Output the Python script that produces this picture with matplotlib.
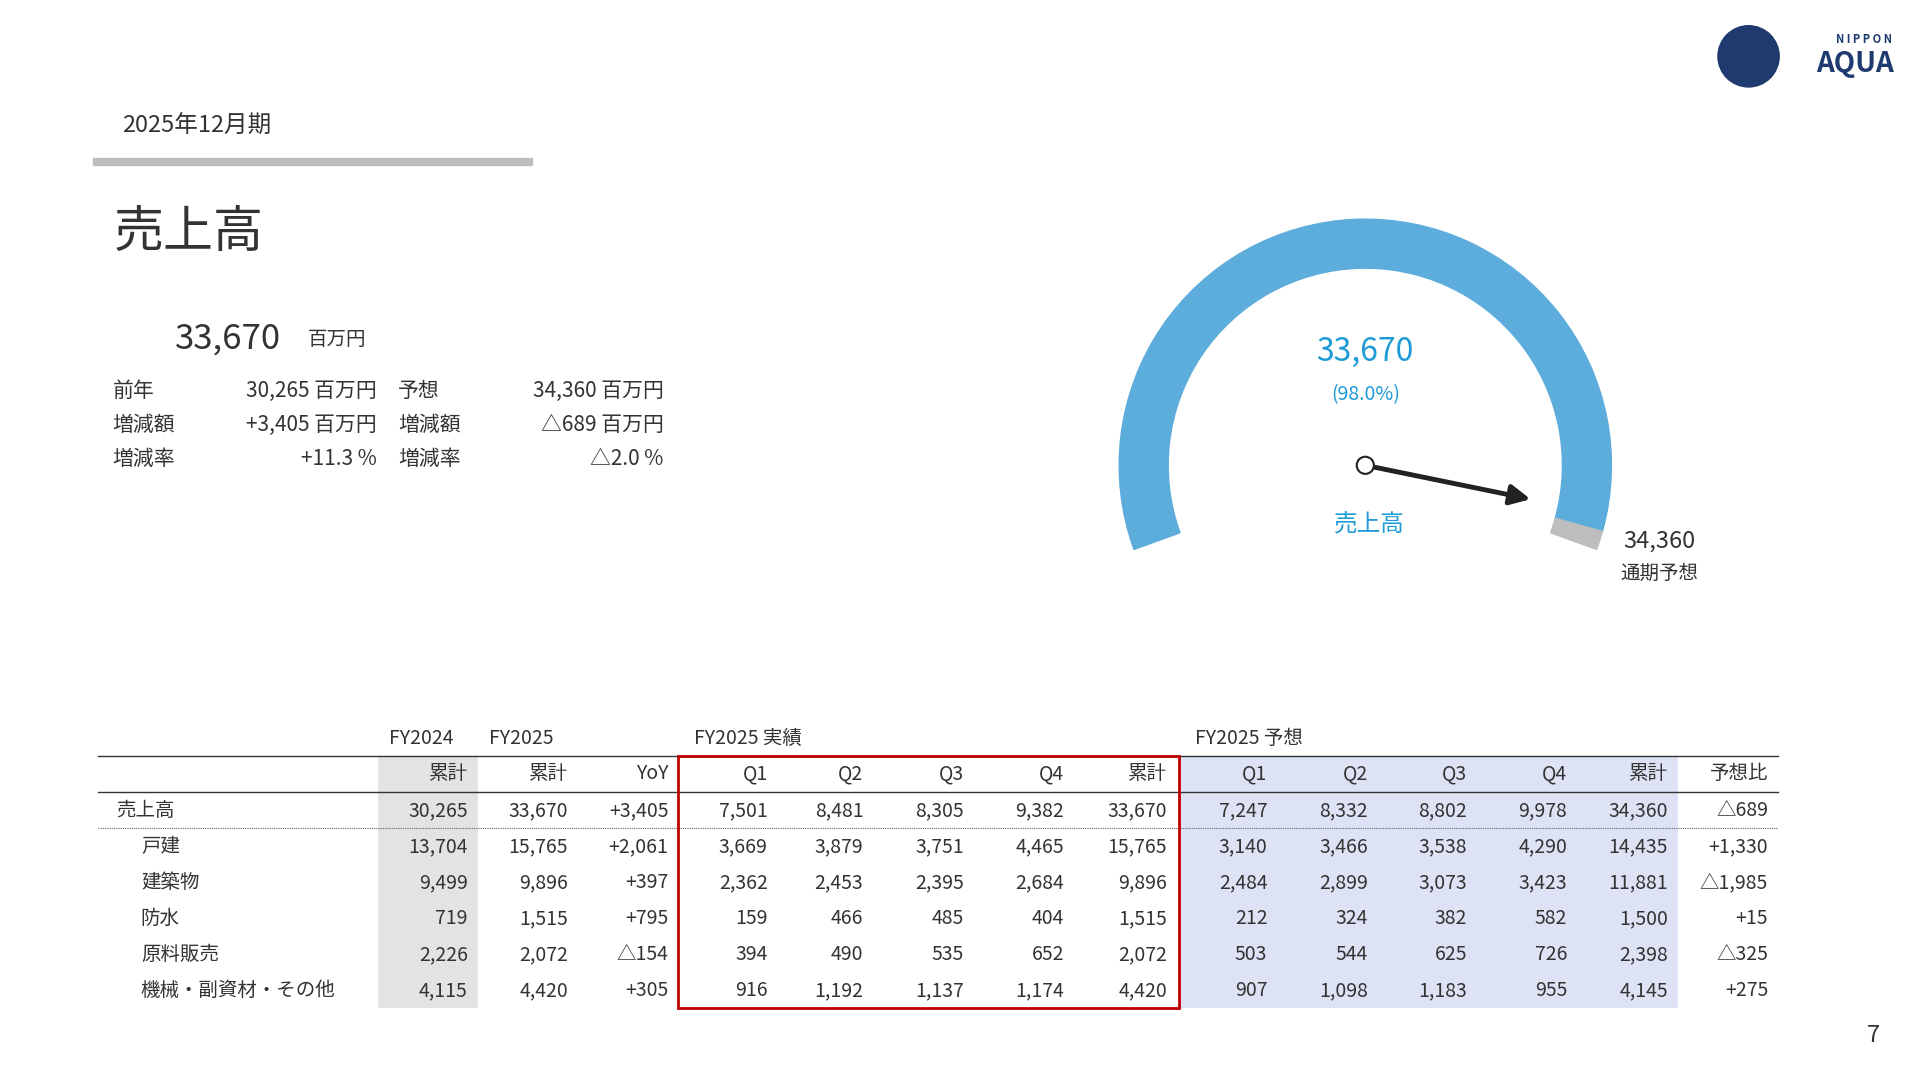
import matplotlib.pyplot as plt
import numpy as np
from matplotlib.patches import Wedge, Rectangle, Circle, FancyArrowPatch

plt.rcParams['font.family'] = ['Noto Sans CJK JP', 'DejaVu Sans']

# data
sales = 33670
forecast = 34360
rows = ['売上高', '戸建', '建築物', '防水', '原料販売', '機械・副資材・その他']
fy2024 = ['30,265', '13,704', '9,499', '719', '2,226', '4,115']
fy2025 = ['33,670', '15,765', '9,896', '1,515', '2,072', '4,420']
yoy = ['+3,405', '+2,061', '+397', '+795', '△154', '+305']
act_q = [['7,501', '8,481', '8,305', '9,382', '33,670'],
         ['3,669', '3,879', '3,751', '4,465', '15,765'],
         ['2,362', '2,453', '2,395', '2,684', '9,896'],
         ['159', '466', '485', '404', '1,515'],
         ['394', '490', '535', '652', '2,072'],
         ['916', '1,192', '1,137', '1,174', '4,420']]
fc_q = [['7,247', '8,332', '8,802', '9,978', '34,360'],
        ['3,140', '3,466', '3,538', '4,290', '14,435'],
        ['2,484', '2,899', '3,073', '3,423', '11,881'],
        ['212', '324', '382', '582', '1,500'],
        ['503', '544', '625', '726', '2,398'],
        ['907', '1,098', '1,183', '955', '4,145']]
fc_ratio = ['△689', '+1,330', '△1,985', '+15', '△325', '+275']
headers = ['累計', '累計', 'YoY', 'Q1', 'Q2', 'Q3', 'Q4', '累計', 'Q1', 'Q2', 'Q3', 'Q4', '累計', '予想比']

fig = plt.figure(figsize=(19.2, 10.8), dpi=100)
ax = fig.add_axes([0, 0, 1, 1])
ax.set_xlim(0, 1568)
ax.set_ylim(882, 0)
ax.axis('off')
tc = '#333333'

# header
ax.text(100, 103, '2025年12月期', fontsize=17, va='center', color=tc)
ax.plot([79, 432], [132, 132], color='#BDBDBD', lw=6)
ax.text(93, 190, '売上高', fontsize=36, va='center', color=tc)
ax.text(143, 277, f'{sales:,}', fontsize=25, va='center', color=tc)
ax.text(251, 277, '百万円', fontsize=14, va='center', color=tc)
info = [('前年', '30,265 百万円', '予想', '34,360 百万円'),
        ('増減額', '+3,405 百万円', '増減額', '△689 百万円'),
        ('増減率', '+11.3 %', '増減率', '△2.0 %')]
for i, (a, b, c, d) in enumerate(info):
    y = 319 + i * 28
    ax.text(92, y, a, fontsize=15, va='center', color=tc)
    ax.text(308, y, b, fontsize=15, va='center', ha='right', color=tc)
    ax.text(325, y, c, fontsize=15, va='center', color=tc)
    ax.text(542, y, d, fontsize=15, va='center', ha='right', color=tc)

# logo (text)
ax.text(1545, 32, 'N I P P O N', fontsize=8, ha='right', va='center', color='#1F3A6E', weight='bold')
ax.text(1547, 52, 'AQUA', fontsize=20, ha='right', va='center', color='#1F3A6E', weight='bold', style='italic')
ax.add_patch(Circle((1428, 46), 25, color='#1F3A6E'))

# gauge
cx, cy, R, w = 1115, 380, 201, 40
start, span = 200, 220
ratio = sales / forecast
end_blue = start - span * ratio
ax.add_patch(Wedge((cx, cy), R, -start, -end_blue, width=w, color='#5DADDC'))
ax.add_patch(Wedge((cx, cy), R, -end_blue, -(start - span), width=w, color='#BDBDBD'))
ang = np.deg2rad(end_blue + 4)
tip = (cx + 140 * np.cos(ang), cy - 140 * np.sin(ang))
ax.add_patch(FancyArrowPatch((cx, cy), tip, arrowstyle='-|>,head_length=12,head_width=6',
                             color='#222', lw=3.5, mutation_scale=1))
ax.add_patch(Circle((cx, cy), 7, facecolor='white', edgecolor='#222', lw=1.5, zorder=5))
ax.text(cx, 287, f'{sales:,}', fontsize=23, ha='center', va='center', color='#1E9BD7')
ax.text(cx, 322, f'({ratio*100:.1f}%)', fontsize=14, ha='center', va='center', color='#1E9BD7')
ax.text(cx + 3, 429, '売上高', fontsize=17, ha='center', va='center', color='#1E9BD7')
ax.text(1355, 442, f'{forecast:,}', fontsize=17, ha='center', va='center', color=tc)
ax.text(1355, 468, '通期予想', fontsize=14, ha='center', va='center', color=tc)

# table
top, bot = 617, 823
fs = 14
ax.add_patch(Rectangle((309, top), 81, bot - top, color='#E3E3E3', lw=0))
ax.add_patch(Rectangle((963, top), 407, bot - top, color='#DDE3F5', lw=0))
ax.add_patch(Rectangle((554, top), 409, bot - top, fill=False, edgecolor='#C00000', lw=2, zorder=4))
ax.plot([80, 1452], [top, top], color='#333', lw=1)
ax.plot([80, 1452], [647, 647], color='#333', lw=1)
ax.plot([80, 1452], [676.5, 676.5], color='#666', lw=0.8, ls=(0, (1, 1)))
for x, t in [(318, 'FY2024'), (399, 'FY2025'), (567, 'FY2025 実績'), (976, 'FY2025 予想')]:
    ax.text(x, 603, t, fontsize=fs, va='center', color=tc)
col_x = [382, 464, 546, 627, 705, 787, 869, 953, 1035, 1117, 1198, 1280, 1362, 1444]
for x, h in zip(col_x, headers):
    ax.text(x, 632, h, fontsize=fs, ha='right', va='center', color=tc)
for i, name in enumerate(rows):
    y = 662 + i * 29.4
    ax.text(95 if i == 0 else 115, y, name, fontsize=fs, va='center', color=tc)
    vals = [fy2024[i], fy2025[i], yoy[i]] + act_q[i] + fc_q[i] + [fc_ratio[i]]
    for x, v in zip(col_x, vals):
        ax.text(x, y, v, fontsize=fs, ha='right', va='center', color=tc)

ax.text(1535, 846, '7', fontsize=17, ha='right', va='center', color=tc)

fig.savefig('out.png', dpi=100, facecolor='white')
